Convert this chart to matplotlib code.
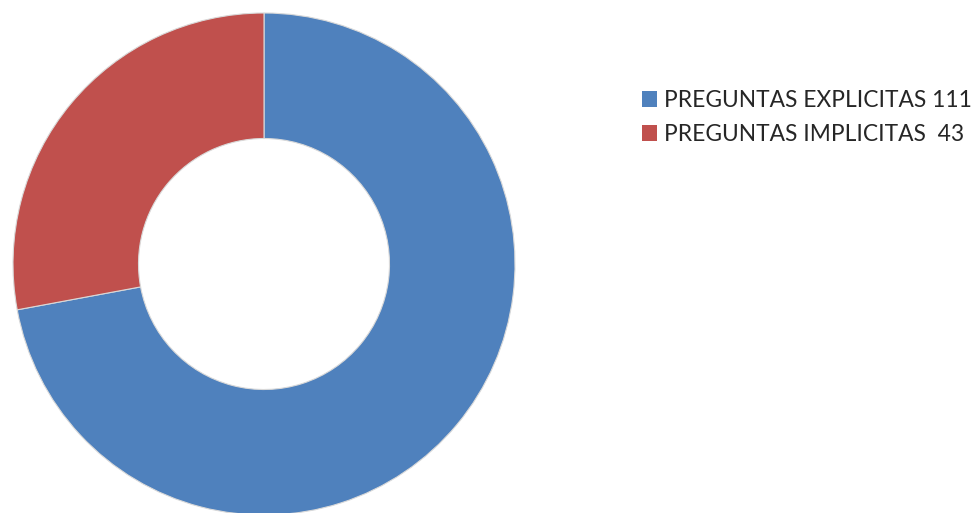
import matplotlib
matplotlib.use("Agg")
import matplotlib.pyplot as plt

labels = ["PREGUNTAS EXPLICITAS 111", "PREGUNTAS IMPLICITAS  43"]
values = [111, 43]
colors = ["#4F81BD", "#C0504D"]

fig = plt.figure(figsize=(9.74, 5.13), dpi=100)
W, H = 974, 513
cx, cy, r = 264, 264, 251
ax = fig.add_axes([(cx - r) / W, (H - cy - r) / H, 2 * r / W, 2 * r / H])
wedges, _ = ax.pie(values, colors=colors, startangle=90, counterclock=False,
                   radius=1, wedgeprops=dict(width=0.5, edgecolor="#d9d9d9", linewidth=0.8))
ax.set_xlim(-1, 1)
ax.set_ylim(-1, 1)
ax.set_aspect("auto")
ax.axis("off")

leg = fig.legend(wedges, labels, loc="upper left", bbox_to_anchor=(642 / W, 1 - 90 / H),
                 frameon=False, prop=dict(family="Lato", size=16.4),
                 handlelength=0.68, handleheight=0.68, handletextpad=0.3,
                 labelspacing=0.58, borderpad=0, borderaxespad=0)
for t in leg.get_texts():
    t.set_color("#262626")
for h in leg.legend_handles:
    h.set_edgecolor("none")

fig.savefig("out.png", dpi=100)
